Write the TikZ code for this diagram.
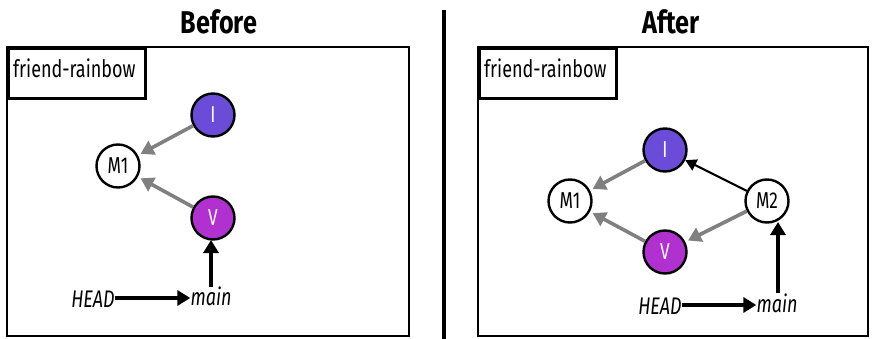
\documentclass[tikz,border=0pt]{standalone}
\usepackage{fontspec}
\setmainfont{Fira Sans}
\newfontfamily\condfont[FakeStretch=0.75]{Fira Sans}
\newfontfamily\ttlfont[FakeStretch=0.8]{Fira Sans}
\usetikzlibrary{arrows.meta}
\definecolor{icol}{RGB}{106,76,216}
\definecolor{vcol}{RGB}{176,48,208}
\definecolor{gcol}{RGB}{128,128,128}
\tikzset{
  commit/.style={circle,draw=black,line width=2.4pt,minimum size=43pt,inner sep=0pt,font=\condfont\fontsize{23}{25}\selectfont},
  panel/.style={draw=black,line width=2.6pt},
  lbl/.style={draw=black,line width=2.6pt,anchor=north west,inner sep=0pt},
  lbltext/.style={font=\condfont\fontsize{24}{26}\selectfont,anchor=base west,inner sep=0pt},
  ttl/.style={font=\ttlfont\bfseries\fontsize{31.5}{33}\selectfont,anchor=base},
  ref/.style={font=\condfont\itshape\fontsize{24}{26}\selectfont,inner sep=0pt,anchor=base},
  garr/.style={draw=gcol,line width=3.6pt,-{Triangle[length=13pt,width=15pt]},shorten >=3pt},
  barr/.style={draw=black,line width=3.6pt,-{Triangle[length=13pt,width=15pt]}},
  tarr/.style={draw=black,line width=2.2pt,-{Triangle[length=11pt,width=12pt]}},
}
\begin{document}
\begin{tikzpicture}[x=1pt,y=-1pt]
\useasboundingbox (0,0) rectangle (872,339);
% divider
\draw[line width=3.6pt] (444,10) -- (444,339);
% Before
\node[ttl] (tb) at (219,34) {Before};
\draw[panel] (7,47) rectangle (409,336);
\node[lbl,minimum width=137pt,minimum height=50pt] (lb) at (7,47) {};
\node[lbltext] (lbt) at (13,78) {friend-rainbow};
\node[commit,fill=icol,text=white] (I1) at (213,115) {I};
\node[commit,fill=vcol,text=white] (V1) at (213,218) {V};
\node[commit,fill=white] (M11) at (118,166) {M1};
\node[ref] (h1) at (93,307) {HEAD};
\node[ref] (m1) at (211,305) {main};
\coordinate (hx1) at (h1.east |- 0,298);
\coordinate (mx1) at (m1.west |- 0,298);
\coordinate (mt1) at (211,287);
\coordinate (vb1) at (211,240);
\draw[garr] (I1) -- (M11);
\draw[garr] (V1) -- (M11);
\draw[barr] (hx1) -- (mx1);
\draw[barr] (mt1) -- (vb1);
% After
\node[ttl] (ta) at (671,34) {After};
\draw[panel] (478,47) rectangle (868,336);
\node[lbl,minimum width=137pt,minimum height=50pt] (la) at (478,47) {};
\node[lbltext] (lat) at (484,78) {friend-rainbow};
\node[commit,fill=icol,text=white] (I2) at (665,150) {I};
\node[commit,fill=vcol,text=white] (V2) at (665,252) {V};
\node[commit,fill=white] (M12) at (570,201) {M1};
\node[commit,fill=white] (M22) at (767,201) {M2};
\node[ref] (h2) at (660,314) {HEAD};
\node[ref] (m2) at (777,312) {main};
\coordinate (hx2) at (h2.east |- 0,305);
\coordinate (mx2) at (m2.west |- 0,305);
\coordinate (mt2) at (778,293);
\coordinate (mb2) at (778,222);
\draw[garr] (I2) -- (M12);
\draw[garr] (V2) -- (M12);
\draw[garr] (M22) -- (V2);
\draw[tarr] (M22) -- (I2);
\draw[barr] (hx2) -- (mx2);
\draw[barr] (mt2) -- (mb2);
\end{tikzpicture}
\end{document}
